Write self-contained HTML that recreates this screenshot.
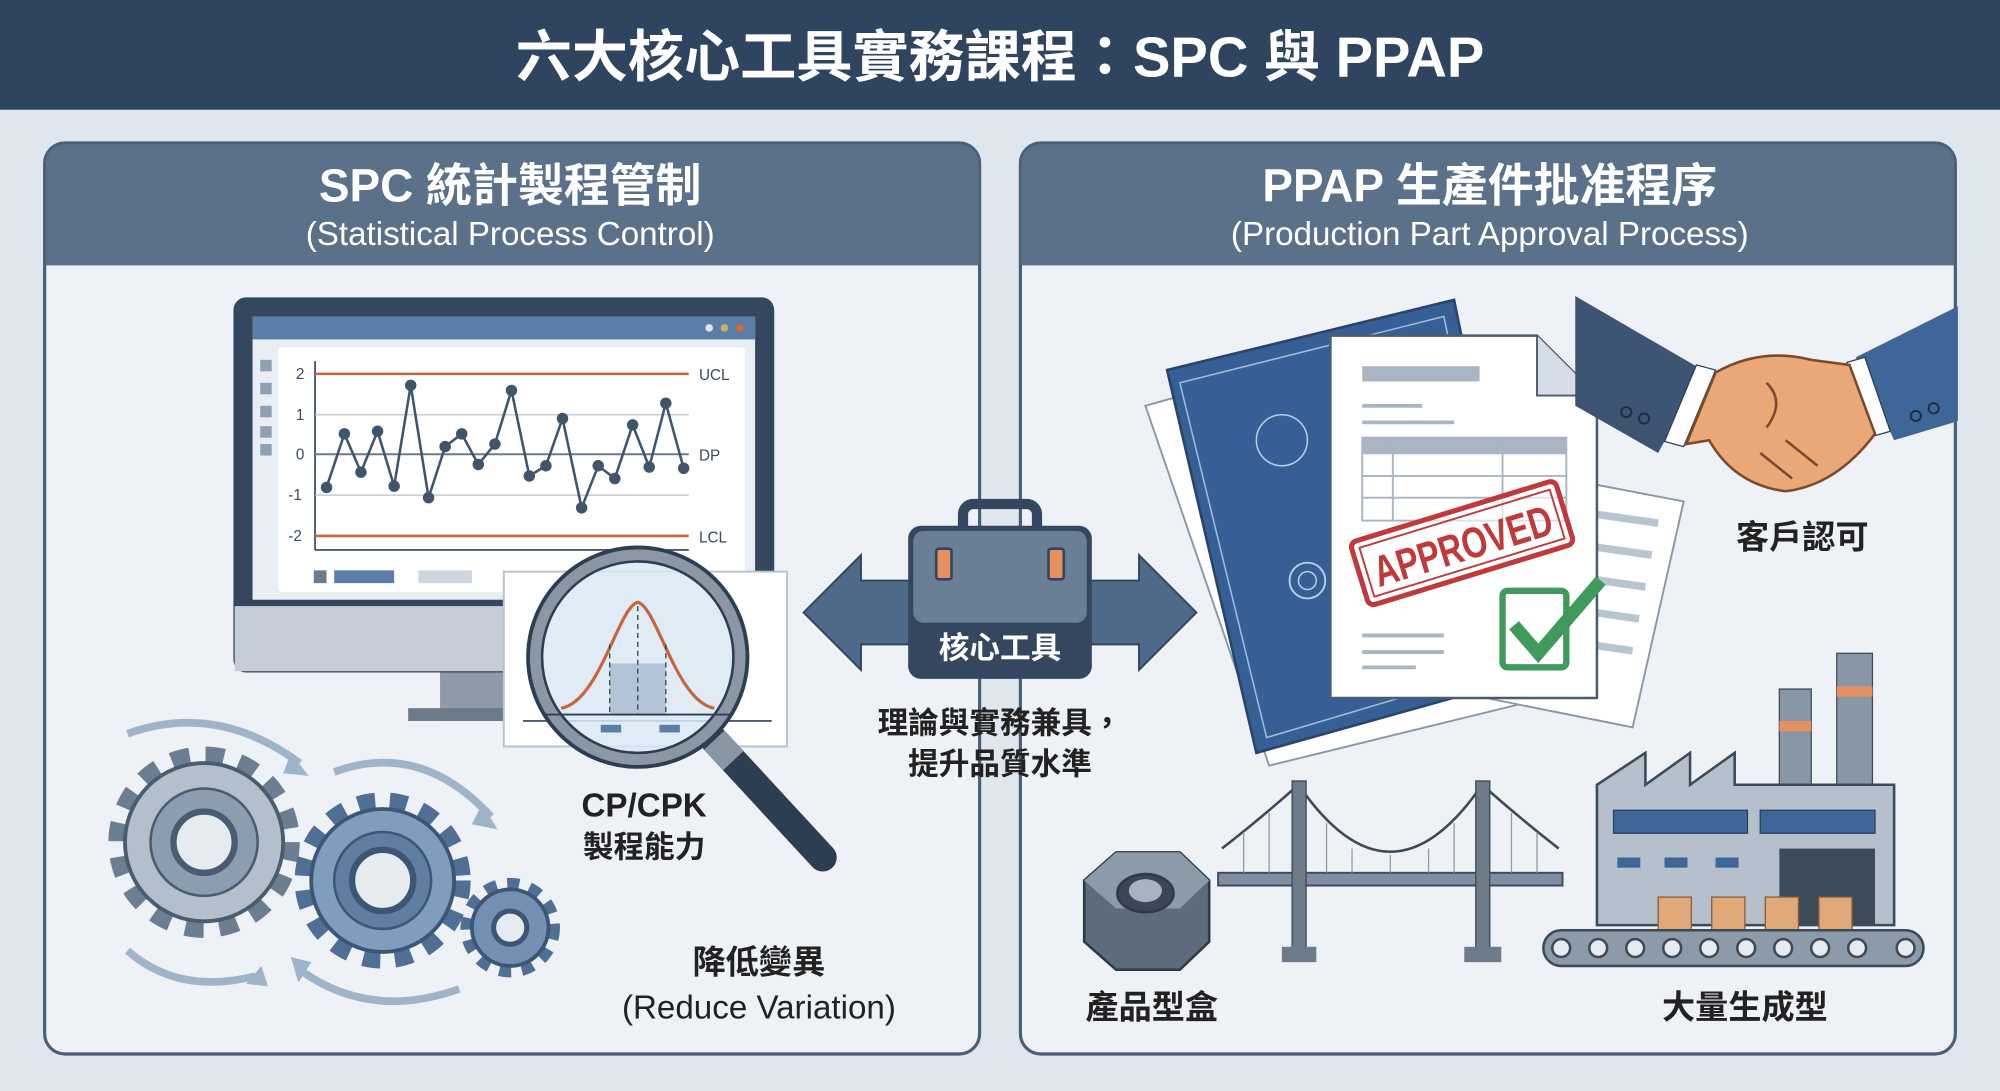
<!DOCTYPE html>
<html><head><meta charset="utf-8"><style>
html,body{margin:0;padding:0;background:#dfe6ee;width:2000px;height:1091px;overflow:hidden;}
svg{display:block;}
text{font-family:"Liberation Sans","Noto Sans CJK TC",sans-serif;}
</style></head><body>
<svg width="2000" height="1091" viewBox="0 0 1568 855" preserveAspectRatio="none" xmlns="http://www.w3.org/2000/svg">
<rect width="1568" height="855" fill="#dfe6ee"/>
<rect width="1568" height="86" fill="#2f445e"/>
<text x="784" y="60" font-size="44" font-weight="bold" fill="#fff" text-anchor="middle">六大核心工具實務課程：SPC 與 PPAP</text>

<g stroke="#4a5f78" stroke-width="2.5">
<rect x="35" y="112" width="733" height="714" rx="16" fill="#eef1f5"/>
<rect x="800" y="112" width="733" height="714" rx="16" fill="#eef1f5"/>
</g>
<path d="M36 208 V128 a15 15 0 0 1 15 -15 H752 a15 15 0 0 1 15 15 V208 Z" fill="#5b7089"/>
<path d="M801 208 V128 a15 15 0 0 1 15 -15 H1517 a15 15 0 0 1 15 15 V208 Z" fill="#5b7089"/>
<text x="400" y="158" font-size="36" font-weight="bold" fill="#fff" text-anchor="middle">SPC 統計製程管制</text>
<text x="400" y="192" font-size="26" fill="#fff" text-anchor="middle">(Statistical Process Control)</text>
<text x="1168" y="158" font-size="36" font-weight="bold" fill="#fff" text-anchor="middle">PPAP 生產件批准程序</text>
<text x="1168" y="192" font-size="26" fill="#fff" text-anchor="middle">(Production Part Approval Process)</text>

<rect x="345" y="520" width="75" height="45" fill="#8e9aa8"/>
<rect x="320" y="555" width="130" height="10" fill="#6c7a8a"/>
<rect x="183" y="233" width="424" height="294" rx="10" fill="#34475f"/>
<rect x="184" y="475" width="422" height="51" fill="#c6cdd6"/>
<rect x="198" y="248" width="394" height="222" fill="#e9eef4"/>
<rect x="198" y="248" width="394" height="18" fill="#5a7ea8"/>
<circle cx="556" cy="257" r="3" fill="#dfe6ee"/><circle cx="568" cy="257" r="3" fill="#c9b05a"/><circle cx="580" cy="257" r="3" fill="#d9643d"/>
<rect x="218" y="272" width="366" height="192" rx="3" fill="#fff"/>
<g fill="#8fa0b2"><rect x="204" y="282" width="9" height="9"/><rect x="204" y="300" width="9" height="9"/><rect x="204" y="318" width="9" height="9"/><rect x="204" y="334" width="9" height="9"/><rect x="204" y="348" width="9" height="9"/></g>
<line x1="247" y1="283" x2="247" y2="431" stroke="#4a5a6c" stroke-width="1.5"/>
<line x1="247" y1="431" x2="540" y2="431" stroke="#4a5a6c" stroke-width="1.5"/>
<line x1="247" y1="293" x2="540" y2="293" stroke="#c8643e" stroke-width="2"/>
<line x1="247" y1="420" x2="540" y2="420" stroke="#c8643e" stroke-width="2"/>
<line x1="247" y1="325" x2="540" y2="325" stroke="#b9c2cc" stroke-width="1"/>
<line x1="247" y1="388" x2="540" y2="388" stroke="#b9c2cc" stroke-width="1"/>
<line x1="247" y1="356" x2="540" y2="356" stroke="#6a7b8d" stroke-width="1.5"/>
<g font-size="12" fill="#3c4a5a"><text x="232" y="297">2</text><text x="232" y="329">1</text><text x="232" y="360">0</text><text x="226" y="392">-1</text><text x="226" y="424">-2</text>
<text x="548" y="298">UCL</text><text x="548" y="361">DP</text><text x="548" y="425">LCL</text></g>
<polyline fill="none" stroke="#3f556c" stroke-width="2" points="256,382 270,340 283,370 296,338 309,381 322,302 336,390 349,350 362,340 375,364 388,348 401,306 415,373 428,365 441,328 456,398 469,365 482,375 496,333 509,366 522,316 536,367"/>
<g fill="#3f556c"><circle cx="256" cy="382" r="4.5"/><circle cx="270" cy="340" r="4.5"/><circle cx="283" cy="370" r="4.5"/><circle cx="296" cy="338" r="4.5"/><circle cx="309" cy="381" r="4.5"/><circle cx="322" cy="302" r="4.5"/><circle cx="336" cy="390" r="4.5"/><circle cx="349" cy="350" r="4.5"/><circle cx="362" cy="340" r="4.5"/><circle cx="375" cy="364" r="4.5"/><circle cx="388" cy="348" r="4.5"/><circle cx="401" cy="306" r="4.5"/><circle cx="415" cy="373" r="4.5"/><circle cx="428" cy="365" r="4.5"/><circle cx="441" cy="328" r="4.5"/><circle cx="456" cy="398" r="4.5"/><circle cx="469" cy="365" r="4.5"/><circle cx="482" cy="375" r="4.5"/><circle cx="496" cy="333" r="4.5"/><circle cx="509" cy="366" r="4.5"/><circle cx="522" cy="316" r="4.5"/><circle cx="536" cy="367" r="4.5"/></g>
<rect x="246" y="447" width="10" height="10" fill="#6d7b8b"/><rect x="262" y="447" width="47" height="10" fill="#5a7ea8"/><rect x="328" y="447" width="42" height="10" fill="#cdd5de"/>

<rect x="395" y="448" width="222" height="137" fill="#fff" stroke="#b8c2cc" stroke-width="1.5"/>
<line x1="410" y1="565" x2="605" y2="565" stroke="#4a5a6c" stroke-width="1.5"/>
<line x1="560" y1="580" x2="645" y2="672" stroke="#2d3e52" stroke-width="22" stroke-linecap="round"/>
<line x1="560" y1="580" x2="575" y2="596" stroke="#8895a4" stroke-width="22"/>
<circle cx="500" cy="515" r="80" fill="#d9e8f3" fill-opacity="0.85" stroke="#8b97a5" stroke-width="10"/>
<circle cx="500" cy="515" r="86" fill="none" stroke="#2d3e52" stroke-width="3"/>
<circle cx="500" cy="515" r="75" fill="none" stroke="#2d3e52" stroke-width="2"/>
<rect x="478" y="520" width="44" height="40" fill="#9fb4c9" opacity="0.7"/>
<path d="M440 555 C470 550 485 475 500 472 C515 475 530 550 560 555" fill="none" stroke="#c8643e" stroke-width="2.5"/>
<line x1="478" y1="505" x2="478" y2="560" stroke="#2d3e52" stroke-dasharray="4 3"/>
<line x1="500" y1="475" x2="500" y2="560" stroke="#2d3e52" stroke-dasharray="4 3"/>
<line x1="522" y1="505" x2="522" y2="560" stroke="#2d3e52" stroke-dasharray="4 3"/>
<line x1="425" y1="560" x2="575" y2="560" stroke="#2d3e52" stroke-width="1.5"/>
<rect x="471" y="568" width="16" height="6" fill="#5a7ea8"/><rect x="517" y="568" width="16" height="6" fill="#5a7ea8"/>
<text x="505" y="640" font-size="26" font-weight="bold" fill="#222" text-anchor="middle">CP/CPK</text>
<text x="505" y="672" font-size="24" font-weight="bold" fill="#222" text-anchor="middle">製程能力</text>

<g>
<circle cx="160" cy="660" r="66" fill="none" stroke="#6c7e92" stroke-width="18" stroke-dasharray="14 12"/>
<circle cx="160" cy="660" r="62" fill="#b3bfcc" stroke="#4a5c70" stroke-width="3"/>
<circle cx="160" cy="660" r="42" fill="#8d9db0" stroke="#4a5c70" stroke-width="2"/>
<circle cx="160" cy="660" r="24" fill="#e6ebf0" stroke="#4a5c70" stroke-width="5"/>
<circle cx="300" cy="690" r="60" fill="none" stroke="#4f6f94" stroke-width="18" stroke-dasharray="13 11"/>
<circle cx="300" cy="690" r="56" fill="#7f9dbd" stroke="#3c5674" stroke-width="3"/>
<circle cx="300" cy="690" r="38" fill="#5f7ea2" stroke="#3c5674" stroke-width="2"/>
<circle cx="300" cy="690" r="24" fill="#e6ebf0" stroke="#3c5674" stroke-width="5"/>
<circle cx="400" cy="727" r="33" fill="none" stroke="#4f6f94" stroke-width="12" stroke-dasharray="9 8"/>
<circle cx="400" cy="727" r="30" fill="#7390b2" stroke="#3c5674" stroke-width="3"/>
<circle cx="400" cy="727" r="13" fill="#e6ebf0" stroke="#3c5674" stroke-width="4"/>
<g fill="none" stroke="#9fb4c9" stroke-width="6">
<path d="M100 575 Q170 550 235 598"/><path d="M262 605 Q330 580 385 640"/>
<path d="M100 745 Q140 780 200 765"/><path d="M235 760 Q290 800 360 775"/></g>
<g fill="#9fb4c9"><path d="M228 590 l14 18 l-20 -2z"/><path d="M378 630 l12 20 l-20 -4z"/><path d="M205 757 l5 16 l-17 -2z"/><path d="M228 750 l6 20 l10 -16z"/></g>
</g>
<text x="595" y="763" font-size="26" font-weight="bold" fill="#222" text-anchor="middle">降低變異</text>
<text x="595" y="798" font-size="26" fill="#222" text-anchor="middle">(Reduce Variation)</text>

<path d="M630 480 L675 435 V455 H715 V505 H675 V525 Z" fill="#4f6a88" stroke="#2f445e" stroke-width="1.5"/>
<path d="M938 480 L893 435 V455 H853 V505 H893 V525 Z" fill="#4f6a88" stroke="#2f445e" stroke-width="1.5"/>
<rect x="755" y="395" width="58" height="30" rx="8" fill="none" stroke="#34475f" stroke-width="8"/>
<rect x="712" y="412" width="144" height="120" rx="10" fill="#34475f"/>
<rect x="716" y="416" width="136" height="72" rx="8" fill="#6b7f94"/>
<rect x="734" y="430" width="12" height="24" rx="2" fill="#e59060" stroke="#2f445e" stroke-width="2"/>
<rect x="822" y="430" width="12" height="24" rx="2" fill="#e59060" stroke="#2f445e" stroke-width="2"/>
<text x="784" y="516" font-size="24" font-weight="bold" fill="#fff" text-anchor="middle">核心工具</text>
<text x="784" y="575" font-size="24" font-weight="bold" fill="#222" text-anchor="middle">理論與實務兼具，</text>
<text x="784" y="607" font-size="24" font-weight="bold" fill="#222" text-anchor="middle">提升品質水準</text>

<polygon points="898,318 1140,250 1240,540 995,600" fill="#fff" stroke="#8b97a5" stroke-width="1.5"/>
<polygon points="915,290 1140,235 1200,530 985,590" fill="#355f95" stroke="#2a4468" stroke-width="2"/>
<polygon points="925,300 1132,248 1188,520 993,578" fill="none" stroke="#9fbde0" stroke-width="1.2"/>
<circle cx="1005" cy="345" r="20" fill="none" stroke="#b7cdea" stroke-width="1.2"/>
<circle cx="1025" cy="455" r="14" fill="none" stroke="#b7cdea" stroke-width="1.5"/>
<circle cx="1025" cy="455" r="7" fill="none" stroke="#b7cdea" stroke-width="1.2"/>
<polygon points="1200,370 1320,393 1280,570 1155,545" fill="#fff" stroke="#8b97a5" stroke-width="1.5"/>
<g stroke="#b8c4d2" stroke-width="6"><line x1="1230" y1="400" x2="1300" y2="410"/><line x1="1225" y1="425" x2="1295" y2="435"/><line x1="1220" y1="450" x2="1290" y2="460"/><line x1="1215" y1="475" x2="1285" y2="485"/><line x1="1210" y1="500" x2="1280" y2="510"/></g>
<path d="M1043 263 H1205 L1252 310 V547 H1043 Z" fill="#fff" stroke="#4a5c70" stroke-width="2"/>
<path d="M1205 263 V310 H1252" fill="#d5dde6" stroke="#4a5c70" stroke-width="1.5"/>
<rect x="1068" y="287" width="92" height="12" fill="#a9b5c2"/>
<g stroke="#a9b5c2" stroke-width="3"><line x1="1068" y1="318" x2="1115" y2="318"/><line x1="1068" y1="331" x2="1140" y2="331"/><line x1="1068" y1="344" x2="1115" y2="344"/><line x1="1068" y1="498" x2="1132" y2="498"/><line x1="1068" y1="511" x2="1132" y2="511"/><line x1="1068" y1="523" x2="1110" y2="523"/></g>
<rect x="1068" y="343" width="160" height="65" fill="none" stroke="#a9b5c2" stroke-width="1.5"/>
<rect x="1068" y="343" width="160" height="13" fill="#a9b5c2"/>
<g stroke="#a9b5c2" stroke-width="1.5"><line x1="1092" y1="343" x2="1092" y2="408"/><line x1="1178" y1="343" x2="1178" y2="408"/><line x1="1068" y1="373" x2="1228" y2="373"/><line x1="1068" y1="390" x2="1228" y2="390"/></g>
<g transform="rotate(-17 1145 425)">
<rect x="1062" y="400" width="168" height="52" rx="5" fill="#fff" fill-opacity="0.6" stroke="#c0393b" stroke-width="4"/>
<rect x="1068" y="406" width="156" height="40" fill="none" stroke="#c0393b" stroke-width="1.5"/>
<text x="1146" y="440" font-size="34" font-weight="bold" fill="#c0393b" text-anchor="middle" textLength="145" lengthAdjust="spacingAndGlyphs">APPROVED</text></g>
<rect x="1178" y="463" width="50" height="60" rx="4" fill="#fff" stroke="#3f9a5c" stroke-width="5"/>
<path d="M1187 490 L1206 512 L1255 455" fill="none" stroke="#3f9a5c" stroke-width="10"/>

<polygon points="1235,232 1335,290 1300,355 1235,318" fill="#3d5573"/>
<polygon points="1535,240 1455,280 1485,345 1535,330" fill="#3f6699"/>
<circle cx="1275" cy="323" r="4" fill="none" stroke="#1f2d3d" stroke-width="1.5"/><circle cx="1289" cy="328" r="4" fill="none" stroke="#1f2d3d" stroke-width="1.5"/>
<circle cx="1502" cy="326" r="4" fill="none" stroke="#1f2d3d" stroke-width="1.5"/><circle cx="1516" cy="320" r="4" fill="none" stroke="#1f2d3d" stroke-width="1.5"/>
<polygon points="1330,286 1345,290 1320,350 1305,346" fill="#fff" stroke="#2d3e52"/>
<polygon points="1448,284 1462,280 1482,338 1468,342" fill="#fff" stroke="#2d3e52"/>
<path d="M1345 292 Q1380 272 1420 282 L1450 286 L1470 340 Q1440 380 1400 385 Q1360 380 1340 345 L1322 348 Z" fill="#eaa879" stroke="#7a4a2c" stroke-width="2"/>
<path d="M1385 300 Q1400 315 1385 335 M1400 345 L1425 365 M1380 355 L1405 375" fill="none" stroke="#7a4a2c" stroke-width="2"/>
<text x="1413" y="430" font-size="26" font-weight="bold" fill="#222" text-anchor="middle">客戶認可</text>

<polygon points="850,690 875,668 925,668 948,690 948,738 925,760 875,760 850,738" fill="#5d6b7c" stroke="#2d3a48" stroke-width="2"/>
<polygon points="850,690 875,668 925,668 948,690 925,712 875,712" fill="#8d9aaa"/>
<ellipse cx="898" cy="700" rx="22" ry="15" fill="#3b4756" stroke="#2d3a48" stroke-width="2"/>
<ellipse cx="898" cy="698" rx="13" ry="9" fill="#a7b3c0"/>
<text x="903" y="798" font-size="26" font-weight="bold" fill="#222" text-anchor="middle">產品型盒</text>

<rect x="955" y="684" width="270" height="10" fill="#7f8ea0" stroke="#3c4a5a" stroke-width="1.5"/>
<path d="M958 665 Q990 640 1018 615 Q1090 720 1162 615 Q1190 640 1222 665" fill="none" stroke="#3c4a5a" stroke-width="2"/>
<g stroke="#8d9aaa" stroke-width="1">
<line x1="975" y1="652" x2="975" y2="684"/><line x1="995" y1="637" x2="995" y2="684"/><line x1="1040" y1="645" x2="1040" y2="684"/><line x1="1060" y1="665" x2="1060" y2="684"/><line x1="1090" y1="670" x2="1090" y2="684"/><line x1="1120" y1="665" x2="1120" y2="684"/><line x1="1140" y1="645" x2="1140" y2="684"/><line x1="1185" y1="637" x2="1185" y2="684"/><line x1="1205" y1="652" x2="1205" y2="684"/></g>
<rect x="1013" y="612" width="11" height="140" fill="#6c7a8a" stroke="#3c4a5a"/>
<rect x="1157" y="612" width="11" height="140" fill="#6c7a8a" stroke="#3c4a5a"/>
<rect x="1005" y="742" width="27" height="12" fill="#6c7a8a"/><rect x="1148" y="742" width="29" height="12" fill="#6c7a8a"/>

<rect x="1395" y="540" width="25" height="80" fill="#8896a6" stroke="#3c4a5a"/>
<rect x="1395" y="565" width="25" height="8" fill="#e59060"/>
<rect x="1440" y="512" width="28" height="108" fill="#8896a6" stroke="#3c4a5a"/>
<rect x="1440" y="538" width="28" height="8" fill="#e59060"/>
<path d="M1252 615 L1290 590 V615 L1325 590 V615 L1360 590 V615 H1485 V725 H1252 Z" fill="#b5c0cc" stroke="#3c4a5a" stroke-width="2"/>
<rect x="1265" y="635" width="105" height="18" fill="#3f6699" stroke="#2d3e52"/>
<rect x="1380" y="635" width="90" height="18" fill="#3f6699" stroke="#2d3e52"/>
<g fill="#3f6699"><rect x="1268" y="672" width="18" height="8"/><rect x="1305" y="672" width="18" height="8"/><rect x="1345" y="672" width="18" height="8"/></g>
<rect x="1395" y="665" width="75" height="60" fill="#3d4a5a"/>
<g fill="#e0a878" stroke="#8a5a38"><rect x="1300" y="703" width="26" height="26"/><rect x="1342" y="703" width="26" height="26"/><rect x="1384" y="703" width="26" height="26"/><rect x="1426" y="703" width="26" height="26"/></g>
<rect x="1210" y="729" width="298" height="28" rx="14" fill="#8d9aaa" stroke="#3c4a5a" stroke-width="2"/>
<g fill="#e6ebf0" stroke="#3c4a5a" stroke-width="2">
<circle cx="1224" cy="743" r="7"/><circle cx="1253" cy="743" r="7"/><circle cx="1282" cy="743" r="7"/><circle cx="1311" cy="743" r="7"/><circle cx="1340" cy="743" r="7"/><circle cx="1369" cy="743" r="7"/><circle cx="1398" cy="743" r="7"/><circle cx="1427" cy="743" r="7"/><circle cx="1456" cy="743" r="7"/><circle cx="1494" cy="743" r="7"/></g>
<text x="1368" y="798" font-size="26" font-weight="bold" fill="#222" text-anchor="middle">大量生成型</text>
</svg>
</body></html>
